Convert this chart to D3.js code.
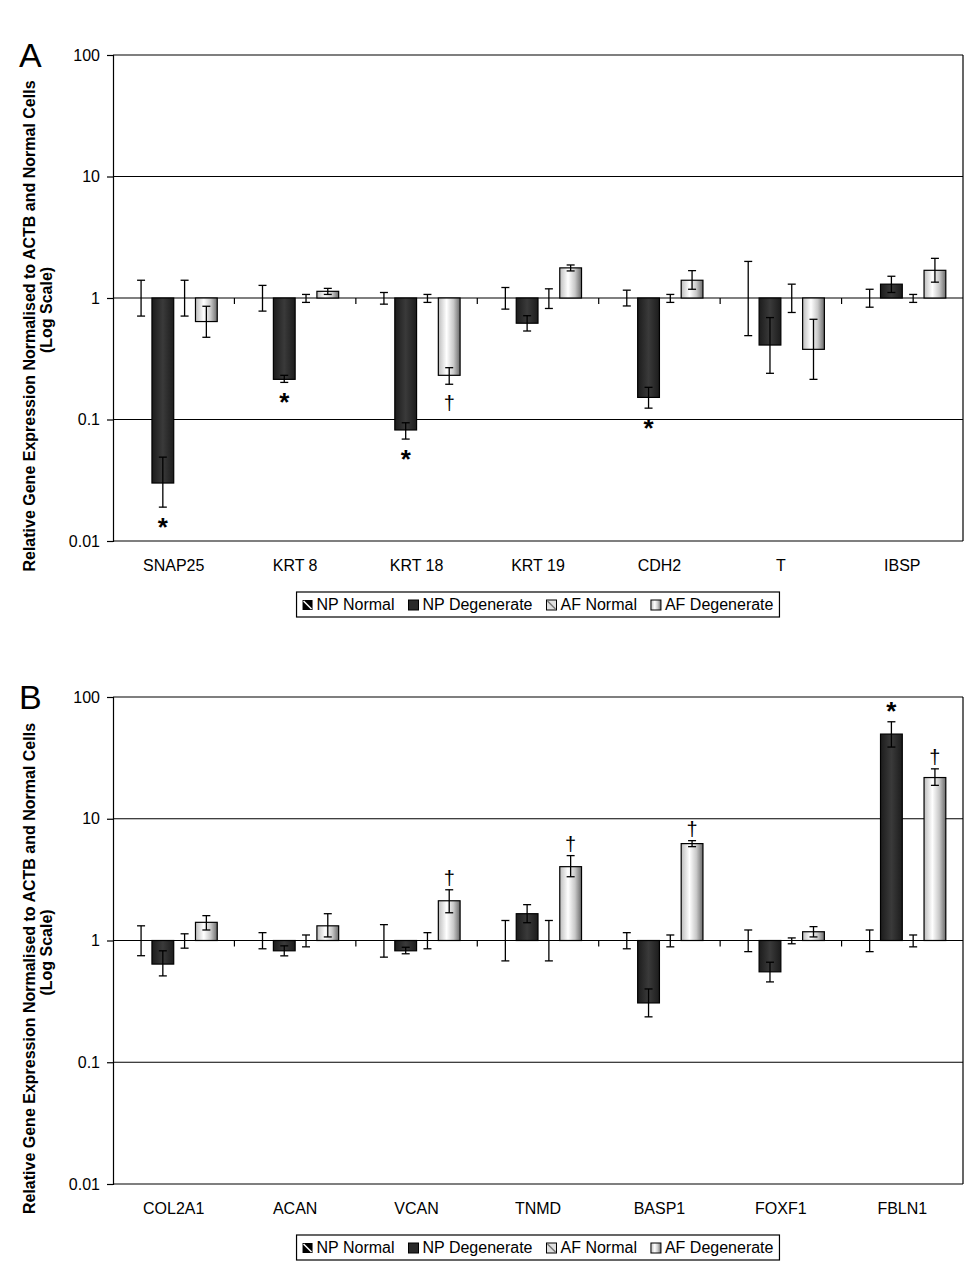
<!DOCTYPE html>
<html><head><meta charset="utf-8">
<script src="https://cdn.jsdelivr.net/npm/d3@7"></script>
<style>body{margin:0;background:#fff}svg{display:block}text{font-family:"Liberation Sans",Arial,sans-serif}</style>
</head><body><svg id="c" width="977" height="1270"></svg>
<script>
// ---------- data ----------
const series = ["NP Normal", "NP Degenerate", "AF Normal", "AF Degenerate"];
const yTicks = [0.01, 0.1, 1, 10, 100];
const yTickLabels = ["0.01", "0.1", "1", "10", "100"];

const catsA = ["SNAP25", "KRT 8", "KRT 18", "KRT 19", "CDH2", "T", "IBSP"];
const npNormA = [1, 1, 1, 1, 1, 1, 1];
const npNormAErr = [[0.71, 1.40], [0.78, 1.27], [0.89, 1.11], [0.81, 1.22], [0.86, 1.16], [0.49, 2.0], [0.84, 1.18]];
const npDegA = [0.030, 0.214, 0.082, 0.62, 0.152, 0.41, 1.30];
const npDegAErr = [[0.019, 0.049], [0.202, 0.231], [0.069, 0.094], [0.535, 0.715], [0.124, 0.184], [0.24, 0.69], [1.11, 1.51]];
const afNormA = [1, 1, 1, 1, 1, 1, 1];
const afNormAErr = [[0.71, 1.40], [0.92, 1.07], [0.92, 1.07], [0.82, 1.19], [0.92, 1.07], [0.76, 1.30], [0.92, 1.07]];
const afDegA = [0.64, 1.135, 0.231, 1.77, 1.40, 0.378, 1.69];
const afDegAErr = [[0.475, 0.855], [1.07, 1.20], [0.195, 0.267], [1.67, 1.87], [1.18, 1.68], [0.214, 0.668], [1.35, 2.12]];
const sigA = [["SNAP25", 1, "*"], ["KRT 8", 1, "*"], ["KRT 18", 1, "*"], ["KRT 18", 3, "\u2020"], ["CDH2", 1, "*"]];

const catsB = ["COL2A1", "ACAN", "VCAN", "TNMD", "BASP1", "FOXF1", "FBLN1"];
const npNormB = [1, 1, 1, 1, 1, 1, 1];
const npNormBErr = [[0.75, 1.32], [0.855, 1.16], [0.73, 1.35], [0.68, 1.46], [0.855, 1.16], [0.81, 1.22], [0.81, 1.22]];
const npDegB = [0.64, 0.823, 0.823, 1.66, 0.307, 0.553, 49.6];
const npDegBErr = [[0.512, 0.823], [0.748, 0.904], [0.778, 0.88], [1.40, 1.97], [0.236, 0.40], [0.457, 0.663], [38.8, 62.6]];
const afNormB = [1, 1, 1, 1, 1, 1, 1];
const afNormBErr = [[0.865, 1.135], [0.887, 1.11], [0.855, 1.16], [0.68, 1.46], [0.887, 1.11], [0.94, 1.05], [0.887, 1.11]];
const afDegB = [1.41, 1.32, 2.12, 4.04, 6.25, 1.18, 21.8];
const afDegBErr = [[1.22, 1.60], [1.07, 1.66], [1.69, 2.61], [3.34, 4.98], [5.9, 6.61], [1.07, 1.30], [18.8, 25.7]];
const sigB = [["VCAN", 3, "\u2020"], ["TNMD", 3, "\u2020"], ["BASP1", 3, "\u2020"], ["FBLN1", 1, "*"], ["FBLN1", 3, "\u2020"]];

const yTitle1 = "Relative Gene Expression Normalised to ACTB and Normal Cells";
const yTitle2 = "(Log Scale)";

// ---------- drawing ----------
const svg = d3.select("#c");
const defs = svg.append("defs");
const gNP = defs.append("linearGradient").attr("id", "gNP").attr("x1", "0").attr("x2", "1").attr("y1", "0").attr("y2", "0");
[[0, "#1c1c1c"], [0.5, "#3a3a3a"], [1, "#1c1c1c"]].forEach(s => gNP.append("stop").attr("offset", s[0]).attr("stop-color", s[1]));
const gAF = defs.append("linearGradient").attr("id", "gAF").attr("x1", "0").attr("x2", "1").attr("y1", "0").attr("y2", "0");
[[0, "#bdbdbd"], [0.38, "#ffffff"], [0.7, "#c8c8c8"], [1, "#6a6a6a"]].forEach(s => gAF.append("stop").attr("offset", s[0]).attr("stop-color", s[1]));
const fills = ["#000", "url(#gNP)", "#ddd", "url(#gAF)"];

function panel(opt) {
  const {cats, vals, errs, sig, top, bottom, letter, left, right} = opt;
  const g = svg.append("g");
  const x = d3.scaleBand().domain(cats).range([left, right]);
  const xs = d3.scaleBand().domain(series).range([0, x.bandwidth()]).paddingOuter(0.79);
  const y = d3.scaleLog().domain([0.01, 100]).range([bottom, top]);

  // gridlines
  g.selectAll(".grid").data(yTicks).join("line")
    .attr("x1", left).attr("x2", right).attr("y1", d => y(d)).attr("y2", d => y(d))
    .attr("stroke", "#000").attr("stroke-width", 1.2);
  // right border
  g.append("line").attr("x1", right).attr("x2", right).attr("y1", top).attr("y2", bottom).attr("stroke", "#000").attr("stroke-width", 1.2);

  // y axis
  const ya = g.append("g").attr("transform", `translate(${left},0)`)
    .call(d3.axisLeft(y).tickValues(yTicks).tickFormat((d, i) => yTickLabels[i]).tickSize(6).tickPadding(7));
  ya.select(".domain").attr("stroke-width", 1.2);
  ya.selectAll("text").attr("font-size", 16).attr("fill", "#000");
  ya.selectAll("line").attr("stroke-width", 1.2);

  // category ticks on the 1-line
  g.selectAll(".ct").data(cats.slice(1)).join("line")
    .attr("x1", d => x(d)).attr("x2", d => x(d)).attr("y1", y(1)).attr("y2", y(1) + 6)
    .attr("stroke", "#000").attr("stroke-width", 1.2);

  // bars
  series.forEach((s, si) => {
    const data = cats.map((c, ci) => ({c, v: vals[si][ci], e: errs[si][ci]}));
    g.selectAll(".b" + si).data(data).join("rect")
      .attr("x", d => x(d.c) + xs(s)).attr("width", xs.bandwidth())
      .attr("y", d => Math.min(y(d.v), y(1))).attr("height", d => Math.abs(y(d.v) - y(1)))
      .attr("fill", fills[si]).attr("stroke", "#000").attr("stroke-width", 1.2);
  });
  // error bars
  series.forEach((s, si) => {
    const data = cats.map((c, ci) => ({c, v: vals[si][ci], e: errs[si][ci]}));
    const eg = g.selectAll(".e" + si).data(data).join("g")
      .attr("transform", d => `translate(${x(d.c) + xs(s) + xs.bandwidth() / 2},0)`);
    eg.append("line").attr("y1", d => y(d.e[0])).attr("y2", d => y(d.e[1])).attr("stroke", "#000").attr("stroke-width", 1.3);
    eg.append("line").attr("x1", -4).attr("x2", 4).attr("y1", d => y(d.e[0])).attr("y2", d => y(d.e[0])).attr("stroke", "#000").attr("stroke-width", 1.3);
    eg.append("line").attr("x1", -4).attr("x2", 4).attr("y1", d => y(d.e[1])).attr("y2", d => y(d.e[1])).attr("stroke", "#000").attr("stroke-width", 1.3);
  });

  // significance markers
  sig.forEach(([c, si, sym]) => {
    const ci = cats.indexOf(c);
    const v = vals[si][ci], e = errs[si][ci];
    const cx = x(c) + xs(series[si]) + xs.bandwidth() / 2;
    const down = v < 1;
    const star = sym === "*";
    let ty;
    if (down) ty = y(e[0]) + (star ? 29 : 26);
    else ty = y(e[1]) - (star ? 2 : 5);
    g.append("text").attr("x", cx).attr("y", ty).attr("text-anchor", "middle").attr("fill", "#000")
      .attr("font-size", star ? 26 : 20).attr("font-weight", star ? "bold" : "normal").text(sym);
  });

  // category labels
  g.selectAll(".cl").data(cats).join("text")
    .attr("x", d => x(d) + x.bandwidth() / 2).attr("y", bottom + 30)
    .attr("text-anchor", "middle").attr("font-size", 16).text(d => d);

  // y title
  const mid = (top + bottom) / 2;
  g.append("text").attr("transform", `translate(35,${mid + 28}) rotate(-90)`).attr("text-anchor", "middle")
    .attr("font-size", 16).attr("font-weight", "bold").text(yTitle1);
  g.append("text").attr("transform", `translate(52,${mid + 12}) rotate(-90)`).attr("text-anchor", "middle")
    .attr("font-size", 16).attr("font-weight", "bold").text(yTitle2);

  // letter
  g.append("text").attr("x", 19).attr("y", top + 12).attr("font-size", 34).text(letter);

  // legend
  const ly = bottom + 69;
  const lg = g.append("g");
  let cx = 0;
  series.forEach((s, si) => {
    const it = lg.append("g").attr("transform", `translate(${cx},0)`);
    const sw = it.append("g").attr("transform", "translate(0,-10)");
    if (si === 0) {
      sw.append("rect").attr("width", 10).attr("height", 10).attr("fill", "#000");
      sw.append("line").attr("x1", 1).attr("y1", 1).attr("x2", 9).attr("y2", 9).attr("stroke", "#fff").attr("stroke-width", 1.5);
    } else if (si === 1) {
      sw.append("rect").attr("width", 10).attr("height", 10).attr("fill", "#2a2a2a").attr("stroke", "#000");
    } else if (si === 2) {
      sw.append("rect").attr("width", 10).attr("height", 10).attr("fill", "#e0e0e0").attr("stroke", "#000");
      sw.append("line").attr("x1", 1).attr("y1", 1).attr("x2", 9).attr("y2", 9).attr("stroke", "#777").attr("stroke-width", 1.5);
    } else {
      sw.append("rect").attr("width", 10).attr("height", 10).attr("fill", "url(#gAF)").attr("stroke", "#000");
    }
    const t = it.append("text").attr("x", 14).attr("y", 0).attr("font-size", 16).text(s);
    cx += 14 + t.node().getComputedTextLength() + 14;
  });
  const lw = cx - 14;
  const lx = (left + right) / 2 - lw / 2;
  lg.attr("transform", `translate(${lx},${ly})`);
  g.insert("rect", () => lg.node()).attr("x", lx - 6).attr("y", ly - 18).attr("width", lw + 12).attr("height", 25)
    .attr("fill", "#fff").attr("stroke", "#000").attr("stroke-width", 1.2);
}

panel({cats: catsA, vals: [npNormA, npDegA, afNormA, afDegA], errs: [npNormAErr, npDegAErr, afNormAErr, afDegAErr],
  sig: sigA, top: 55, bottom: 541, letter: "A", left: 113, right: 963});
panel({cats: catsB, vals: [npNormB, npDegB, afNormB, afDegB], errs: [npNormBErr, npDegBErr, afNormBErr, afDegBErr],
  sig: sigB, top: 697, bottom: 1184, letter: "B", left: 113, right: 963});
</script></body></html>
